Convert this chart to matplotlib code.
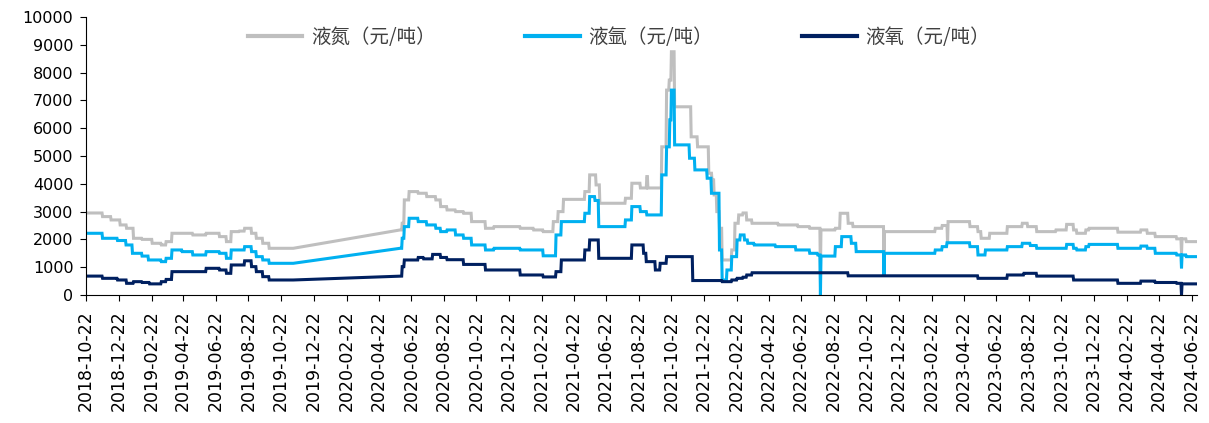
import pandas as pd
import numpy as np
import matplotlib
matplotlib.use("Agg")
import matplotlib.pyplot as plt

# --- price change points (date the posted price changed, new price in 元/吨)
n2_dates = ["2018-10-22", "2018-11-22", "2018-12-08", "2018-12-25", "2019-01-06", "2019-01-19",
            "2019-02-04", "2019-02-23", "2019-03-12", "2019-03-21", "2019-04-01", "2019-05-10",
            "2019-06-04", "2019-06-29", "2019-07-12", "2019-07-21", "2019-08-05", "2019-08-15",
            "2019-08-28", "2019-09-06", "2019-09-18", "2019-09-30", "2019-11-14",
            "2020-05-31", "2020-06-05", "2020-06-09", "2020-06-18", "2020-07-05", "2020-07-21",
            "2020-08-07", "2020-08-16", "2020-08-28", "2020-09-13", "2020-09-28", "2020-10-13",
            "2020-11-08", "2020-11-24", "2021-01-12", "2021-02-06", "2021-02-24", "2021-03-15",
            "2021-03-24", "2021-04-03", "2021-05-13", "2021-05-22", "2021-06-03", "2021-06-10",
            "2021-07-28", "2021-08-09", "2021-08-25", "2021-09-06", "2021-09-08", "2021-10-04",
            "2021-10-13", "2021-10-18", "2021-10-22", "2021-10-28", "2021-11-28", "2021-12-10",
            "2021-12-31", "2022-01-06", "2022-01-10", "2022-01-15", "2022-01-20", "2022-01-25",
            "2022-02-12", "2022-02-18", "2022-02-25", "2022-03-05", "2022-03-12", "2022-03-22",
            "2022-05-10", "2022-06-16", "2022-07-08", "2022-07-28", "2022-07-29", "2022-08-25",
            "2022-09-03", "2022-09-18", "2022-09-27", "2022-11-24", "2022-11-25", "2023-02-28",
            "2023-03-13", "2023-03-23", "2023-03-24", "2023-05-04", "2023-05-19", "2023-05-25",
            "2023-06-10", "2023-07-13", "2023-08-10", "2023-08-20", "2023-09-06", "2023-10-12",
            "2023-11-01", "2023-11-14", "2023-11-20", "2023-12-07", "2023-12-13", "2024-02-05",
            "2024-03-19", "2024-03-31", "2024-04-15", "2024-05-25", "2024-06-03", "2024-06-04",
            "2024-06-12", "2024-07-02"]
n2_vals = [2950, 2820, 2700, 2520, 2400, 2040,
           2000, 1860, 1800, 1920, 2220, 2160,
           2220, 2100, 1920, 2280, 2300, 2400,
           2220, 2040, 1860, 1680, 1680,
           2340, 2580, 3420, 3720, 3660, 3540,
           3420, 3180, 3060, 3000, 2940, 2640,
           2400, 2460, 2400, 2340, 2280, 2640,
           3000, 3440, 3720, 4320, 3960, 3300,
           3480, 4020, 3850, 4260, 3850, 5330,
           7370, 7730, 8750, 6770, 5690, 5330,
           4380, 4140, 3600, 3000, 2400, 1260,
           1620, 2580, 2880, 2950, 2700, 2580,
           2520, 2460, 2400, 800, 2340, 2400,
           2940, 2580, 2460, 1500, 2280, 2400,
           2500, 1870, 2640, 2460, 2280, 2040,
           2220, 2460, 2580, 2460, 2280, 2340,
           2540, 2340, 2220, 2340, 2400, 2260,
           2340, 2220, 2100, 2020, 1500, 2020,
           1920, 1920]

ar_dates = ["2018-10-22", "2018-11-22", "2018-12-20", "2019-01-05", "2019-01-17", "2019-02-04",
            "2019-02-16", "2019-03-12", "2019-03-21", "2019-04-01", "2019-04-20", "2019-05-10",
            "2019-06-04", "2019-06-29", "2019-07-12", "2019-07-21", "2019-08-15", "2019-08-28",
            "2019-09-06", "2019-09-18", "2019-09-30", "2019-11-14",
            "2020-05-31", "2020-06-05", "2020-06-09", "2020-06-18", "2020-07-05", "2020-07-21",
            "2020-08-07", "2020-08-16", "2020-08-28", "2020-09-13", "2020-09-28", "2020-10-13",
            "2020-11-08", "2020-11-24", "2021-01-12", "2021-02-24", "2021-03-20", "2021-03-30",
            "2021-05-13", "2021-05-22", "2021-06-01", "2021-06-08", "2021-07-28", "2021-08-09",
            "2021-08-25", "2021-09-06", "2021-10-04", "2021-10-13", "2021-10-19", "2021-10-22",
            "2021-10-28", "2021-11-25", "2021-12-05", "2021-12-28", "2022-01-05", "2022-01-20",
            "2022-01-25", "2022-02-03", "2022-02-12", "2022-02-22", "2022-02-28", "2022-03-08",
            "2022-03-14", "2022-03-26", "2022-05-05", "2022-06-12", "2022-07-08", "2022-07-23",
            "2022-07-28", "2022-07-29", "2022-08-25", "2022-09-06", "2022-09-24", "2022-10-03",
            "2022-11-24", "2022-11-25", "2023-02-28", "2023-03-13", "2023-03-22", "2023-05-04",
            "2023-05-19", "2023-06-02", "2023-07-13", "2023-08-10", "2023-08-25", "2023-09-06",
            "2023-11-01", "2023-11-14", "2023-11-20", "2023-12-07", "2023-12-13", "2024-02-05",
            "2024-03-19", "2024-03-31", "2024-04-15", "2024-05-25", "2024-06-03", "2024-06-04",
            "2024-06-12", "2024-07-02"]
ar_vals = [2220, 2040, 1960, 1800, 1500, 1400,
           1260, 1200, 1320, 1620, 1560, 1440,
           1560, 1500, 1320, 1620, 1740, 1560,
           1380, 1260, 1140, 1140,
           1680, 2040, 2460, 2760, 2640, 2520,
           2400, 2280, 2340, 2160, 2040, 1800,
           1620, 1680, 1620, 1410, 2160, 2640,
           2940, 3540, 3400, 2460, 2700, 3180,
           3000, 2880, 4320, 5330, 6300, 7370,
           5400, 4920, 4500, 4200, 3660, 1620,
           540, 900, 1380, 1980, 2160, 1980,
           1860, 1800, 1740, 1620, 1500, 1440,
           0, 1400, 1740, 2100, 1860, 1560,
           650, 1500, 1620, 1740, 1880, 1740,
           1440, 1620, 1740, 1860, 1780, 1680,
           1820, 1680, 1620, 1740, 1820, 1680,
           1760, 1680, 1500, 1440, 960, 1440,
           1380, 1380]

o2_dates = ["2018-10-22", "2018-11-22", "2018-12-20", "2019-01-06", "2019-01-19", "2019-02-04",
            "2019-02-18", "2019-03-12", "2019-03-21", "2019-04-01", "2019-06-04", "2019-06-29",
            "2019-07-12", "2019-07-21", "2019-08-15", "2019-08-28", "2019-09-06", "2019-09-18",
            "2019-09-30", "2019-11-14",
            "2020-05-31", "2020-06-05", "2020-06-09", "2020-07-05", "2020-07-15", "2020-08-01",
            "2020-08-16", "2020-08-28", "2020-09-28", "2020-11-08", "2021-01-12", "2021-02-24",
            "2021-03-20", "2021-03-30", "2021-05-13", "2021-05-22", "2021-06-08", "2021-08-09",
            "2021-08-31", "2021-09-05", "2021-09-22", "2021-10-01", "2021-10-13", "2021-12-01",
            "2022-01-25", "2022-02-12", "2022-02-22", "2022-03-05", "2022-03-12", "2022-03-22",
            "2022-09-18", "2023-05-19", "2023-07-13", "2023-08-13", "2023-09-06", "2023-11-14",
            "2024-02-05", "2024-03-19", "2024-04-15", "2024-05-25", "2024-06-03", "2024-06-04",
            "2024-07-02"]
o2_vals = [680, 600, 540, 420, 480, 450,
           400, 480, 560, 840, 960, 900,
           780, 1080, 1230, 1020, 840, 660,
           540, 540,
           680, 1020, 1260, 1350, 1300, 1460,
           1350, 1270, 1100, 900, 720, 650,
           840, 1260, 1620, 1980, 1320, 1800,
           1500, 1200, 900, 1140, 1380, 520,
           480, 540, 600, 640, 720, 800,
           690, 600, 720, 780, 680, 540,
           420, 500, 450, 420, 0, 400,
           400]

labels = ["液氮（元/吨）", "液氩（元/吨）", "液氧（元/吨）"]
colors = ["#BFBFBF", "#00B0F0", "#002060"]

# no quotes were published between these dates; the chart just joins the two ends
gap_start, gap_end = pd.Timestamp("2019-11-14"), pd.Timestamp("2020-05-31")


def daily(dates, vals):
    # hold each posted price until the next change
    s = pd.Series(vals, index=pd.to_datetime(dates)).resample("D").ffill()
    return s[(s.index <= gap_start) | (s.index >= gap_end)]


plt.rcParams["font.family"] = ["DejaVu Sans"]

fig = plt.figure(figsize=(12.09, 4.23), dpi=100)
ax = fig.add_axes([86 / 1209, 128 / 423, (1197 - 86) / 1209, (295 - 17) / 423])

for d, v, lab, c in zip([n2_dates, ar_dates, o2_dates], [n2_vals, ar_vals, o2_vals], labels, colors):
    s = daily(d, v)
    ax.plot(s.index, s.values, color=c, lw=2.2, label=lab, solid_joinstyle="miter")

xt = [pd.Timestamp("2018-10-22") + pd.DateOffset(months=2 * i) for i in range(35)]
ax.set_xticks(xt)
ax.set_xticklabels([t.strftime("%Y-%m-%d") for t in xt], rotation=90, fontsize=12.5)
ax.set_xlim(pd.Timestamp("2018-10-22"), pd.Timestamp("2024-07-02"))
ax.set_ylim(0, 10000)
ax.set_yticks(np.arange(0, 10001, 1000))
ax.tick_params(axis="y", labelsize=11.5, length=4, pad=5, direction="out")
ax.tick_params(axis="x", length=4, pad=7, direction="out")

for sp in ["top", "right"]:
    ax.spines[sp].set_visible(False)
for sp in ["left", "bottom"]:
    ax.spines[sp].set_color("#000000")
    ax.spines[sp].set_linewidth(0.8)

leg = ax.legend(loc="center", bbox_to_anchor=(619 / 1209, 1 - 37 / 423), bbox_transform=fig.transFigure,
                ncol=3, frameon=False, handlelength=2.8, handletextpad=0.45, columnspacing=4.6,
                prop={"family": ["Noto Sans CJK SC", "DejaVu Sans"], "size": 14})
for t in leg.get_texts():
    t.set_color("#404040")
for line in leg.get_lines():
    line.set_linewidth(3)

fig.savefig("out.png", dpi=100)
